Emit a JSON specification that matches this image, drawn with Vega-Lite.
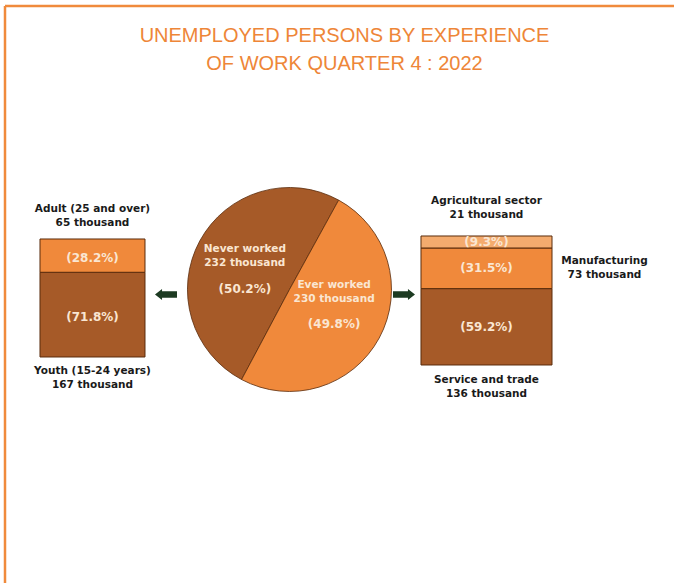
{
  "$schema": "https://vega.github.io/schema/vega-lite/v6.json",
  "width": 669,
  "height": 577,
  "autosize": {"type": "none"},
  "padding": {"left": 5, "top": 6, "right": 0, "bottom": 0},
  "background": "white",
  "title": {
    "text": ["UNEMPLOYED PERSONS BY EXPERIENCE", "OF WORK QUARTER 4 : 2022"],
    "font": "Liberation Sans",
    "fontSize": 20,
    "fontWeight": "normal",
    "color": "#EE8638",
    "lineHeight": 28,
    "anchor": "middle",
    "frame": "group",
    "offset": -68,
    "dx": 5
  },
  "config": {
    "view": {"stroke": "#F08A3C", "strokeWidth": 2.5, "strokeDash": [669, 1246, 577, 0]}
  },
  "resolve": {"scale": {"y": "independent"}},
  "layer": [
    {
      "data": {"values": [
        {"panel": "Age", "group": "Youth (15-24 years)", "thousand": 167, "pct": 71.8},
        {"panel": "Age", "group": "Adult (25 and over)", "thousand": 65, "pct": 28.2}
      ]},
      "transform": [
        {"stack": "pct", "groupby": ["panel"], "sort": [{"field": "thousand", "order": "descending"}], "as": ["p0", "p1"]},
        {"calculate": "(datum.p0 + datum.p1) / 2", "as": "pmid"},
        {"calculate": "'(' + format(datum.pct, '.1f') + '%)'", "as": "pctLabel"},
        {"calculate": "[datum.group, datum.thousand + ' thousand']", "as": "label"}
      ],
      "encoding": {
        "x": {"field": "panel", "type": "nominal", "axis": null,
          "scale": {"type": "band", "domain": ["Age", "Experience", "Sector"], "paddingInner": 0.5, "paddingOuter": 0.44797, "align": 0.21671, "round": false}}
      },
      "layer": [
        {
          "mark": {"type": "bar", "width": {"band": 1.066}, "stroke": "#5a2c0c", "strokeWidth": 1},
          "encoding": {
            "y": {"field": "p0", "type": "quantitative", "axis": null, "scale": {"domain": [-191.53, 297.46], "nice": false, "zero": false}},
            "y2": {"field": "p1"},
            "color": {"field": "group", "type": "nominal", "legend": null,
              "scale": {"domain": ["Youth (15-24 years)", "Adult (25 and over)", "Never worked", "Ever worked", "Service and trade", "Manufacturing", "Agricultural sector"],
                "range": ["#A65A28", "#F0893B", "#A65A28", "#F0893B", "#A65A28", "#F0893B", "#F4AB6E"]}}
          }
        },
        {
          "mark": {"type": "text", "font": "DejaVu Sans", "fontWeight": "bold", "fontSize": 12, "color": "#FAE6D2", "baseline": "middle", "dy": 2},
          "encoding": {
            "y": {"field": "pmid", "type": "quantitative", "axis": null, "scale": {"domain": [-191.53, 297.46], "nice": false, "zero": false}},
            "text": {"field": "pctLabel"}
          }
        },
        {
          "transform": [{"filter": "datum.p1 > 99.9"}],
          "mark": {"type": "text", "font": "DejaVu Sans", "fontWeight": "bold", "fontSize": 10.5, "color": "#1a1a1a", "baseline": "bottom", "lineHeight": 14, "dy": -25},
          "encoding": {
            "y": {"field": "p1", "type": "quantitative", "axis": null, "scale": {"domain": [-191.53, 297.46], "nice": false, "zero": false}},
            "text": {"field": "label"}
          }
        },
        {
          "transform": [{"filter": "datum.p0 < 0.1"}],
          "mark": {"type": "text", "font": "DejaVu Sans", "fontWeight": "bold", "fontSize": 10.5, "color": "#1a1a1a", "baseline": "top", "lineHeight": 14, "dy": 9},
          "encoding": {
            "y": {"field": "p0", "type": "quantitative", "axis": null, "scale": {"domain": [-191.53, 297.46], "nice": false, "zero": false}},
            "text": {"field": "label"}
          }
        }
      ]
    },
    {
      "data": {"values": [
        {"panel": "Experience", "group": "Never worked", "thousand": 232, "pct": 50.2},
        {"panel": "Experience", "group": "Ever worked", "thousand": 230, "pct": 49.8}
      ]},
      "transform": [
        {"calculate": "'(' + format(datum.pct, '.1f') + '%)'", "as": "pctLabel"},
        {"calculate": "[datum.group, datum.thousand + ' thousand']", "as": "label"}
      ],
      "encoding": {
        "x": {"field": "panel", "type": "nominal", "axis": null,
          "scale": {"type": "band", "domain": ["Age", "Experience", "Sector"], "paddingInner": 0.5, "paddingOuter": 0.44797, "align": 0.21671, "round": false}},
        "theta": {"field": "thousand", "type": "quantitative", "stack": true, "scale": {"range": [0.5027, 6.7859]}},
        "order": {"field": "group", "sort": "ascending"}
      },
      "layer": [
        {
          "mark": {"type": "arc", "radius": 102, "stroke": "#5a2c0c", "strokeWidth": 0.8, "yOffset": -5},
          "encoding": {
            "color": {"field": "group", "type": "nominal", "legend": null,
              "scale": {"domain": ["Youth (15-24 years)", "Adult (25 and over)", "Never worked", "Ever worked", "Service and trade", "Manufacturing", "Agricultural sector"],
                "range": ["#A65A28", "#F0893B", "#A65A28", "#F0893B", "#A65A28", "#F0893B", "#F4AB6E"]}}
          }
        },
        {
          "mark": {"type": "text", "radius": 48, "thetaOffset": -0.12, "yOffset": -5, "dy": -22.5, "font": "DejaVu Sans", "fontWeight": "bold", "fontSize": 10.5, "lineHeight": 14, "color": "#FAE6D2", "baseline": "middle"},
          "encoding": {"text": {"field": "label"}, "detail": {"field": "group"}}
        },
        {
          "mark": {"type": "text", "radius": 48, "thetaOffset": -0.12, "yOffset": -5, "dy": 17, "font": "DejaVu Sans", "fontWeight": "bold", "fontSize": 12, "color": "#FAE6D2", "baseline": "middle"},
          "encoding": {"text": {"field": "pctLabel"}, "detail": {"field": "group"}}
        }
      ]
    },
    {
      "data": {"values": [{"arrow": "towards age groups"}]},
      "mark": {"type": "point", "shape": "M-1,0L-0.36,-0.49L-0.36,-0.29L1,-0.29L1,0.29L-0.36,0.29L-0.36,0.49Z", "filled": true, "size": 484, "color": "#1d3b22", "opacity": 1, "xOffset": -123.5},
      "encoding": {
        "x": {"datum": "Experience", "type": "nominal", "axis": null,
          "scale": {"type": "band", "domain": ["Age", "Experience", "Sector"], "paddingInner": 0.5, "paddingOuter": 0.44797, "align": 0.21671, "round": false}}
      }
    },
    {
      "data": {"values": [{"arrow": "towards sectors"}]},
      "mark": {"type": "point", "shape": "M1,0L0.36,-0.49L0.36,-0.29L-1,-0.29L-1,0.29L0.36,0.29L0.36,0.49Z", "filled": true, "size": 484, "color": "#1d3b22", "opacity": 1, "xOffset": 114.5},
      "encoding": {
        "x": {"datum": "Experience", "type": "nominal", "axis": null,
          "scale": {"type": "band", "domain": ["Age", "Experience", "Sector"], "paddingInner": 0.5, "paddingOuter": 0.44797, "align": 0.21671, "round": false}}
      }
    },
    {
      "data": {"values": [
        {"panel": "Sector", "group": "Service and trade", "thousand": 136, "pct": 59.2},
        {"panel": "Sector", "group": "Manufacturing", "thousand": 73, "pct": 31.5},
        {"panel": "Sector", "group": "Agricultural sector", "thousand": 21, "pct": 9.3}
      ]},
      "transform": [
        {"stack": "pct", "groupby": ["panel"], "sort": [{"field": "thousand", "order": "descending"}], "as": ["p0", "p1"]},
        {"calculate": "(datum.p0 + datum.p1) / 2", "as": "pmid"},
        {"calculate": "'(' + format(datum.pct, '.1f') + '%)'", "as": "pctLabel"},
        {"calculate": "[datum.group, datum.thousand + ' thousand']", "as": "label"}
      ],
      "encoding": {
        "x": {"field": "panel", "type": "nominal", "axis": null,
          "scale": {"type": "band", "domain": ["Age", "Experience", "Sector"], "paddingInner": 0.5, "paddingOuter": 0.44797, "align": 0.21671, "round": false}}
      },
      "layer": [
        {
          "mark": {"type": "bar", "width": {"band": 1.33}, "stroke": "#5a2c0c", "strokeWidth": 1},
          "encoding": {
            "y": {"field": "p0", "type": "quantitative", "axis": null, "scale": {"domain": [-169.0, 278.29], "nice": false, "zero": false}},
            "y2": {"field": "p1"},
            "color": {"field": "group", "type": "nominal", "legend": null,
              "scale": {"domain": ["Youth (15-24 years)", "Adult (25 and over)", "Never worked", "Ever worked", "Service and trade", "Manufacturing", "Agricultural sector"],
                "range": ["#A65A28", "#F0893B", "#A65A28", "#F0893B", "#A65A28", "#F0893B", "#F4AB6E"]}}
          }
        },
        {
          "mark": {"type": "text", "font": "DejaVu Sans", "fontWeight": "bold", "fontSize": 12, "color": "#FAE6D2", "baseline": "middle"},
          "encoding": {
            "y": {"field": "pmid", "type": "quantitative", "axis": null, "scale": {"domain": [-169.0, 278.29], "nice": false, "zero": false}},
            "text": {"field": "pctLabel"}
          }
        },
        {
          "transform": [{"filter": "datum.p1 > 99.9"}],
          "mark": {"type": "text", "font": "DejaVu Sans", "fontWeight": "bold", "fontSize": 10.5, "color": "#1a1a1a", "baseline": "bottom", "lineHeight": 14, "dy": -29.5},
          "encoding": {
            "y": {"field": "p1", "type": "quantitative", "axis": null, "scale": {"domain": [-169.0, 278.29], "nice": false, "zero": false}},
            "text": {"field": "label"}
          }
        },
        {
          "transform": [{"filter": "datum.p0 < 0.1"}],
          "mark": {"type": "text", "font": "DejaVu Sans", "fontWeight": "bold", "fontSize": 10.5, "color": "#1a1a1a", "baseline": "top", "lineHeight": 14, "dy": 10},
          "encoding": {
            "y": {"field": "p0", "type": "quantitative", "axis": null, "scale": {"domain": [-169.0, 278.29], "nice": false, "zero": false}},
            "text": {"field": "label"}
          }
        },
        {
          "transform": [{"filter": "datum.p0 > 0.1 && datum.p1 < 99.9"}],
          "mark": {"type": "text", "font": "DejaVu Sans", "fontWeight": "bold", "fontSize": 10.5, "color": "#1a1a1a", "baseline": "middle", "lineHeight": 14, "dx": 118, "dy": -7},
          "encoding": {
            "y": {"field": "pmid", "type": "quantitative", "axis": null, "scale": {"domain": [-169.0, 278.29], "nice": false, "zero": false}},
            "text": {"field": "label"}
          }
        }
      ]
    }
  ]
}
